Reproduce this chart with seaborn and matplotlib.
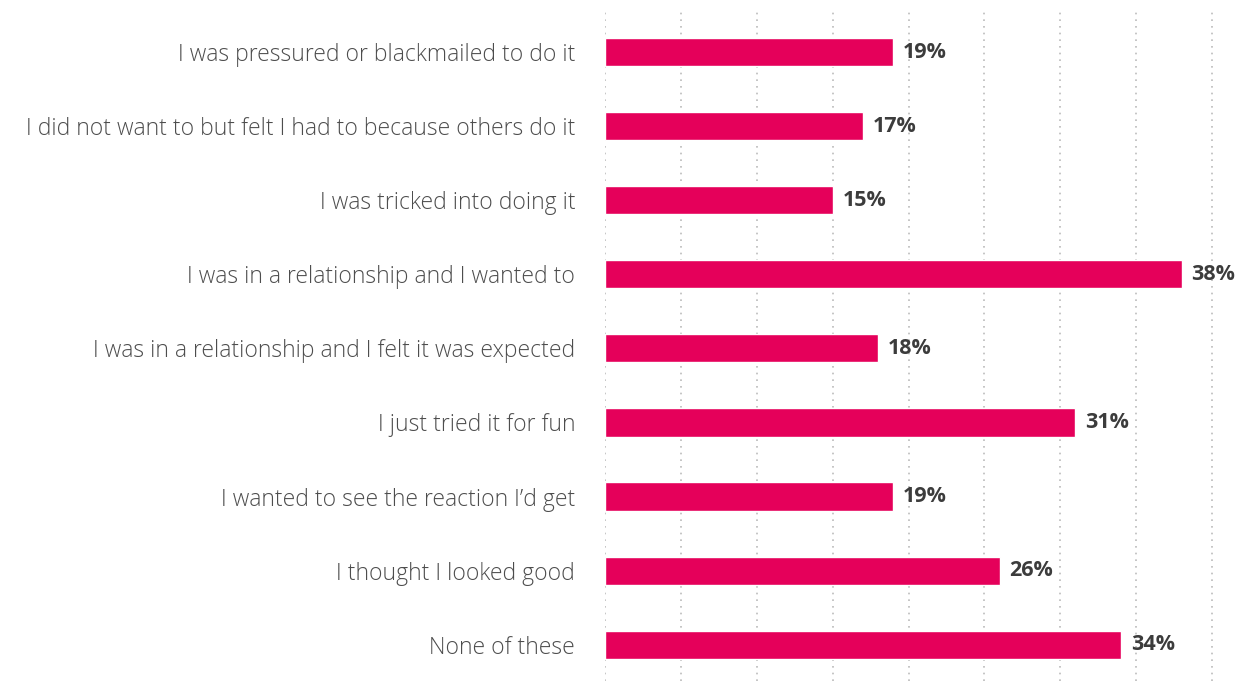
import matplotlib.pyplot as plt
import pandas as pd
import seaborn as sns

barcolor = '#e5005a'
textcolor = '#3c3c3c'
labelcolor = '#4d4d4d'

reasons = [
    'I was pressured or blackmailed to do it',
    'I did not want to but felt I had to because others do it',
    'I was tricked into doing it',
    'I was in a relationship and I wanted to',
    'I was in a relationship and I felt it was expected',
    'I just tried it for fun',
    'I wanted to see the reaction I\u2019d get',
    'I thought I looked good',
    'None of these',
]
shares = [19, 17, 15, 38, 18, 31, 19, 26, 34]

df = pd.DataFrame({'reason': reasons, 'share': shares})

sns.set_style('white')
plt.rcParams['font.family'] = ['Open Sans', 'DejaVu Sans']

fig = plt.figure(figsize=(12.4, 6.81), dpi=100)
ax = fig.add_axes([605 / 1240, 0, (1220 - 605) / 1240, 1 - 12 / 681])

sns.barplot(data=df, x='share', y='reason', color=barcolor, saturation=1,
            width=0.38, orient='h', ax=ax, zorder=3)

for c in ax.containers:
    ax.bar_label(c, labels=[f'{v}%' for v in shares], padding=7,
                 fontsize=15.5, fontweight='bold', color=textcolor)

ax.set_xlim(0, 40 * 615 / 607)
ax.set_ylim(8.49, -0.54)
ax.set_xticks(range(0, 41, 5))
ax.xaxis.grid(True, linestyle=(0, (1, 3)), color='#bbbbbb', linewidth=1.2, zorder=0)
ax.set_axisbelow(True)
ax.tick_params(axis='x', bottom=False, labelbottom=False)
ax.tick_params(axis='y', left=False, pad=18, labelsize=16.5, labelcolor=labelcolor)
for t in ax.get_yticklabels():
    t.set_fontweight('light')
ax.set_xlabel('')
ax.set_ylabel('')
sns.despine(ax=ax, left=True, bottom=True)

fig.savefig('out.png', dpi=100)
